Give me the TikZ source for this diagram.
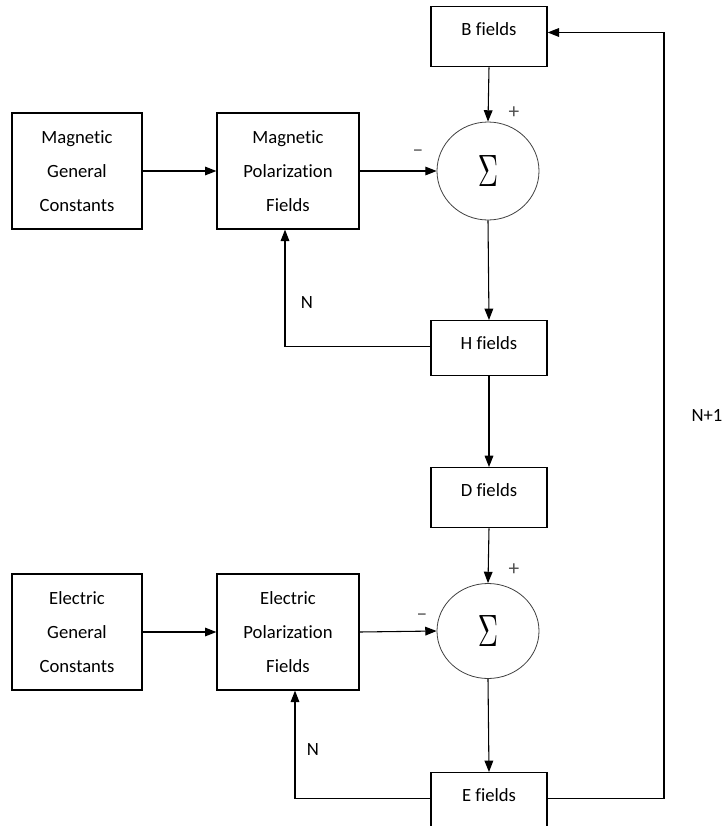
\documentclass[tikz,border=0pt]{standalone}
\usepackage{fontspec}
\setmainfont{Carlito}[Ligatures=NoCommon]
\usetikzlibrary{arrows.meta,shapes.geometric,calc}
\definecolor{sgn}{HTML}{505050}
\definecolor{rim}{HTML}{404040}
\tikzset{
  blk/.style={draw=black, line width=1pt, align=center, inner sep=0pt, minimum height=87pt, font=\fontsize{14}{25.5}\selectfont},
  fld/.style={draw=black, line width=1pt, inner sep=0pt, minimum width=87pt, text height=21.75pt, text depth=23.25pt, anchor=north, font=\fontsize{14}{17}\selectfont},
  sum/.style={ellipse, draw=rim, line width=0.6pt, minimum width=76.5pt, minimum height=73.5pt, inner sep=0pt},
  lbl/.style={font=\fontsize{14}{17}\selectfont},
  sgnlbl/.style={text=sgn, font=\fontsize{16}{17}\selectfont},
  flow/.style={-{Triangle[length=8.5pt,width=6.5pt]}, line width=0.8pt},
}
\newcommand{\bigsum}{\scalebox{2.1}[3.4]{$\Sigma$}}

\begin{document}
\begin{tikzpicture}[x=0.75pt, y=-0.75pt]
  \useasboundingbox (0,0) rectangle (724,826);
  \clip (0,0) rectangle (724,826);
  % magnetic loop
  \node[blk, minimum width=97.5pt] (magC) at (77,171) {Magnetic\\General\\Constants};
  \node[blk, minimum width=106.5pt] (magP) at (288,171) {Magnetic\\Polarization\\Fields};
  \node[sum] (sumM) at (488,171) {\bigsum};
  \node[fld] (bF) at (489,6) {B fields};
  \node[fld, text depth=19.5pt] (hF) at (489,320) {H fields};
  % electric loop
  \node[fld] (dF) at (489,467) {D fields};
  \node[blk, minimum width=97.5pt] (elC) at (77,632) {Electric\\General\\Constants};
  \node[blk, minimum width=106.5pt] (elP) at (288,632) {Electric\\Polarization\\Fields};
  \node[sum, minimum height=71.25pt] (sumE) at (488,631) {\bigsum};
  \node[fld] (eF) at (489,772) {E fields};
  \coordinate (rtn) at (664,420);
  % connectors
  \draw[flow] (magC.east) -- (magP.west);
  \draw[flow] (magP.east) -- (sumM.west);
  \draw[flow] (bF.south) -- (sumM.north);
  \draw[flow] (sumM.south) -- (hF.north);
  \draw[flow] (hF.mid west) -| ([xshift=-2.25pt]magP.south);
  \draw[flow] (hF.south) -- (dF.north);
  \draw[flow] (dF.south) -- (sumE.north);
  \draw[flow] (elC.east) -- (elP.west);
  \draw[flow] (elP.east) -- (sumE.west);
  \draw[flow] (sumE.south) -- (eF.north);
  \draw[flow] (eF.mid west) -| ([xshift=5.25pt]elP.south);
  \draw[flow] (eF.mid east) -| (rtn) |- (bF.mid east);
  % labels
  \node[lbl] (nM) at (307,303) {N};
  \node[lbl] (nE) at (313,750) {N};
  \node[lbl] (nRt) at (707,415) {N+1};
  \node[sgnlbl] (plM) at (514,113) {+};
  \node[sgnlbl] (miM) at (418,153) {–};
  \node[sgnlbl] (plE) at (514,570) {+};
  \node[sgnlbl] (miE) at (422,617) {–};
\end{tikzpicture}
\end{document}
